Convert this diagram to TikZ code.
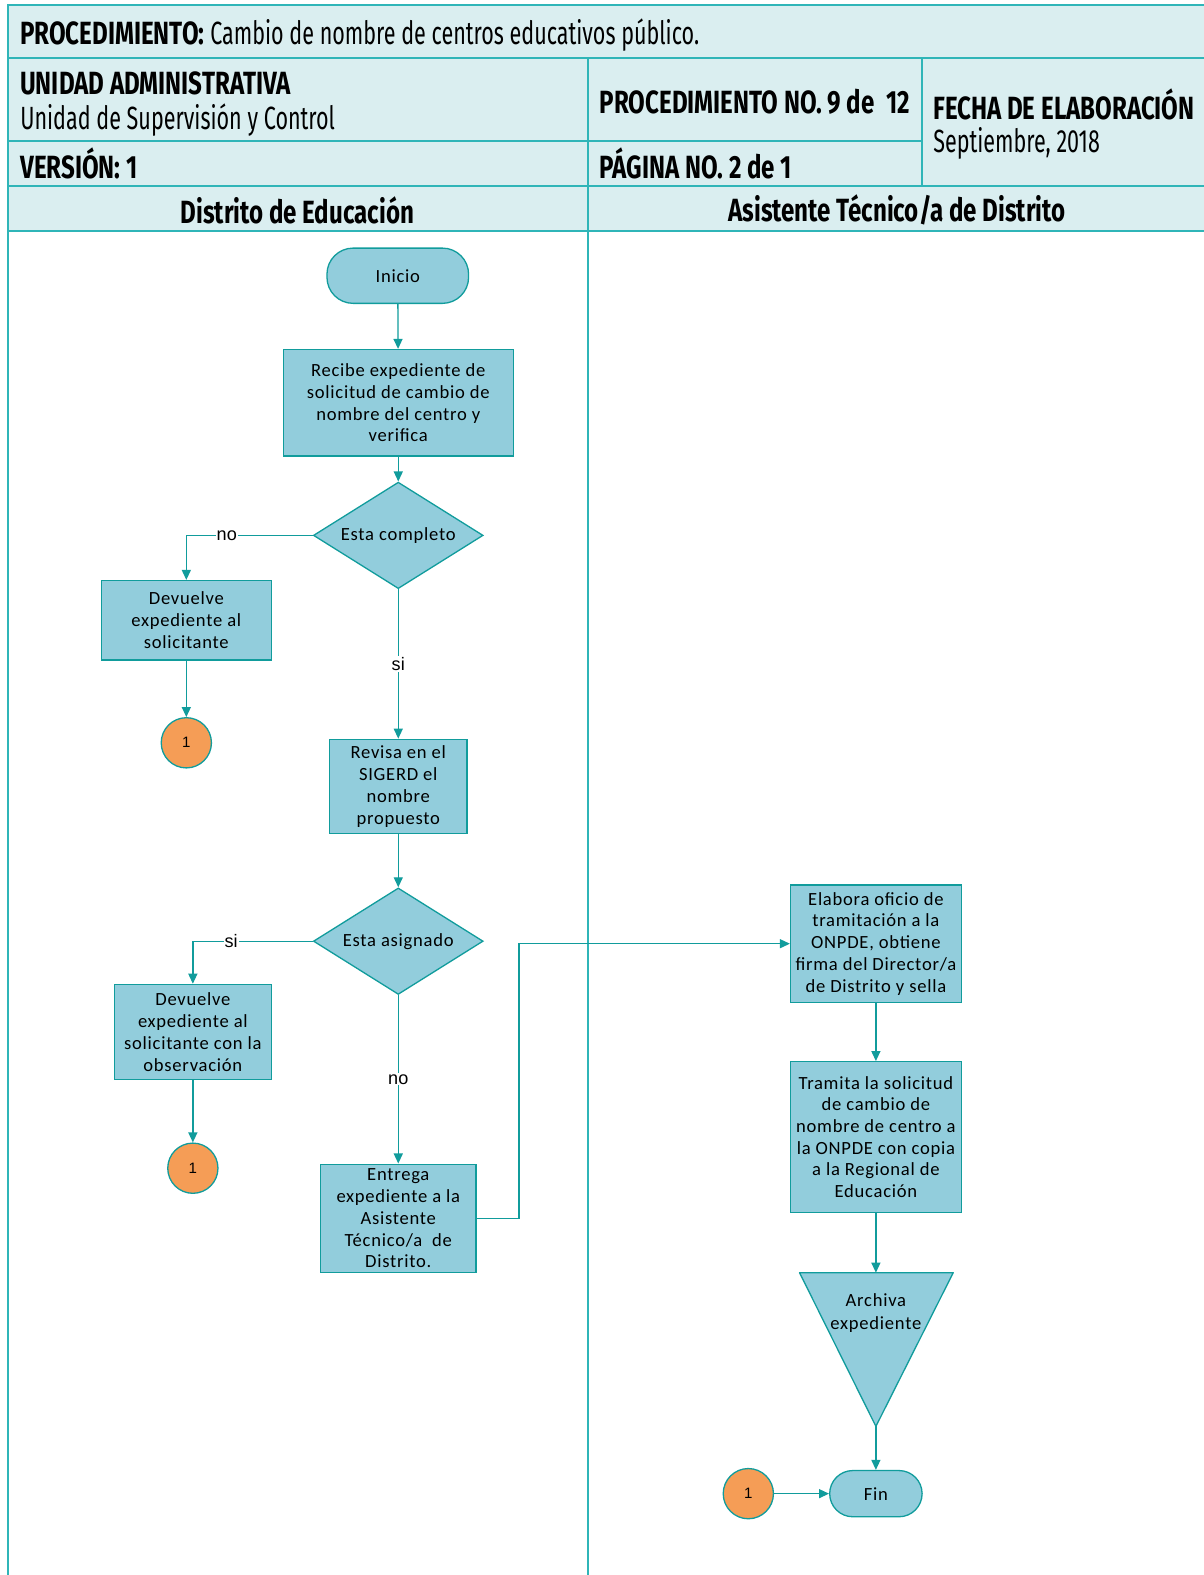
\documentclass[tikz,border=0pt]{standalone}
\usepackage{fontspec}
\setmainfont{Carlito}
\newfontfamily\boxfont[LetterSpace=4]{Carlito}
\newfontfamily\hdr[FakeStretch=0.75]{Fira Sans}
\newfontfamily\hdrreg[FakeStretch=0.67]{Fira Sans}
\newfontfamily\arial{Liberation Sans}
\usetikzlibrary{shapes.geometric,arrows.meta}
\definecolor{hdrfill}{HTML}{DAEEF0}
\definecolor{hdrline}{HTML}{2FB5B8}
\definecolor{boxfill}{HTML}{92CDDC}
\definecolor{boxline}{HTML}{119C9C}
\definecolor{orangec}{HTML}{F59D56}
\tikzset{
  hline/.style={draw=hdrline, line width=2pt},
  htext/.style={anchor=west, inner sep=0, font=\hdrreg\fontsize{32}{34}\selectfont},
  hbold/.style={htext, font=\hdr\bfseries\fontsize{32}{34}\selectfont},
  proc/.style={draw=boxline, fill=boxfill, line width=1.3pt, align=center, inner sep=0,
    font=\boxfont\fontsize{18.5}{21.6}\selectfont},
  term/.style={proc, rounded corners=26pt},
  dec/.style={proc, diamond, minimum width=169pt, minimum height=106pt},
  conn/.style={draw=boxline, fill=orangec, line width=1.3pt, circle, minimum size=50pt, inner sep=0,
    font=\arial\fontsize{15}{15}\selectfont},
  arr/.style={draw=boxline, line width=1.3pt, -{Triangle[length=10pt,width=9pt]}},
  lbl/.style={fill=white, inner sep=1pt, font=\arial\fontsize{18}{18}\selectfont}
}
\begin{document}
\begin{tikzpicture}[x=1pt,y=-1pt]
\useasboundingbox (0,0) rectangle (1198,1568);
% header
\fill[hdrfill] (8,5) rectangle (1205,230);
\draw[hline] (1205,5) -- (8,5) -- (8,1575);
\draw[hline] (8,58) -- (1205,58);
\draw[hline] (8,140) -- (918,140);
\draw[hline] (8,185) -- (1205,185);
\draw[hline] (8,230) -- (1205,230);
\draw[hline] (585,58) -- (585,1575);
\draw[hline] (918,58) -- (918,185);
\node[hbold] (t1) at (20,35) {PROCEDIMIENTO:\ {\hdrreg\mdseries Cambio de nombre de centros educativos público.}};
\node[hbold] (t2) at (20,83) {UNIDAD ADMINISTRATIVA};
\node[htext] (t3) at (20,120) {Unidad de Supervisión y Control};
\node[hbold] (t4) at (20,163) {VERSIÓN: 1};
\node[hbold] (t5) at (597,101) {PROCEDIMIENTO NO. 9 de\ \ 12};
\node[hbold] (t6) at (597,163) {PÁGINA NO. 2 de 1};
\node[hbold] (t7) at (929,104) {FECHA DE ELABORACIÓN};
\node[htext] (t8) at (929,143) {Septiembre, 2018};
\node[hbold, anchor=center] (l1) at (296,209) {Distrito de Educación};
\node[hbold, anchor=center] (l2) at (893,209) {Asistente Técnico/a de Distrito};
% flow
\node[term, minimum width=141pt, minimum height=55pt] (inicio) at (396,274.5) {Inicio};
\node[proc, minimum width=229pt, minimum height=106pt] (recibe) at (396.5,401) {Recibe expediente de\\solicitud de cambio de\\nombre del centro y\\verifica};
\node[dec] (d1) at (396.5,533) {\makebox[0pt]{\raisebox{-2pt}{Esta completo}}};
\node[proc, minimum width=169pt, minimum height=79pt] (dev1) at (185.5,617.5) {Devuelve\\expediente al\\solicitante};
\node[conn] (c1) at (185.5,739.5) {1};
\node[proc, minimum width=137pt, minimum height=94pt] (revisa) at (396.5,783) {Revisa en el\\SIGERD el\\nombre\\propuesto};
\node[dec] (d2) at (396.5,937) {\makebox[0pt]{\raisebox{-2pt}{Esta asignado}}};
\node[proc, minimum width=156pt, minimum height=95pt] (dev2) at (192,1027.5) {Devuelve\\expediente al\\solicitante con la\\observación};
\node[conn] (c2) at (192,1163) {1};
\node[proc, minimum width=155pt, minimum height=108pt] (entrega) at (396.5,1213) {Entrega\\expediente a la\\Asistente\\Técnico/a\ \ de\\Distrito.};
\node[proc, minimum width=170pt, minimum height=117pt] (elabora) at (872,939.5) {Elabora oficio de\\tramitación a la\\ONPDE, obtiene\\firma del Director/a\\de Distrito y sella};
\node[proc, minimum width=170pt, minimum height=150pt] (tramita) at (872,1132) {Tramita la solicitud\\de cambio de\\nombre de centro a\\la ONPDE con copia\\a la Regional de\\Educación};
\coordinate (tritop) at (872,1267);
\coordinate (triapex) at (872,1420);
\draw[draw=boxline, fill=boxfill, line width=1.3pt, line join=round] (796,1267) -- (949,1267) -- (triapex) -- cycle;
\node[align=center, inner sep=0, font=\boxfont\fontsize{18.5}{23.5}\selectfont] (archiva) at (872,1307) {Archiva\\expediente};
\node[term, minimum width=92pt, minimum height=46pt, rounded corners=23pt] (fin) at (872,1487) {Fin};
\node[conn] (c3) at (745,1487) {1};
% connectors
\draw[arr] (inicio) -- (recibe);
\draw[arr] (recibe) -- (d1);
\draw[arr] (d1.west) -| node[lbl, pos=0.34] {no} (dev1.north);
\draw[arr] (dev1) -- (c1);
\draw[arr] (d1) -- node[lbl] {si} (revisa);
\draw[arr] (revisa) -- (d2);
\draw[arr] (d2.west) -| node[lbl, pos=0.34] {si} (dev2.north);
\draw[arr] (dev2) -- (c2);
\draw[arr] (d2) -- node[lbl] {no} (entrega);
\draw[arr] (entrega.east) -- ++(42,0) |- (elabora.west);
\draw[arr] (elabora) -- (tramita);
\draw[arr] (tramita) -- (tritop);
\draw[arr] (triapex) -- (fin);
\draw[arr] (c3) -- (fin);
\end{tikzpicture}
\end{document}
